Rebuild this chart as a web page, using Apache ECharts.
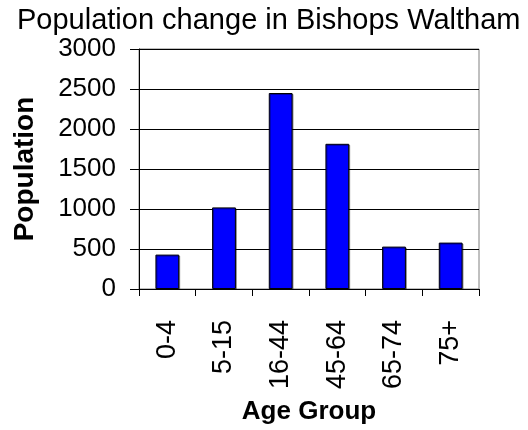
<!DOCTYPE html>
<html>
<head>
<meta charset="utf-8">
<script src="https://cdn.jsdelivr.net/npm/echarts@6/dist/echarts.min.js"></script>
<style>
  html, body { margin: 0; padding: 0; background: #fff; }
  #chart { width: 528px; height: 430px; }
</style>
</head>
<body>
<div id="chart"></div>
<script>
const ageGroups = ["0-4", "5-15", "16-44", "45-64", "65-74", "75+"];
const population = [430, 1020, 2450, 1815, 530, 580];

const chart = echarts.init(document.getElementById("chart"));
const font = "Liberation Sans, Arial, sans-serif";

const option = {
  animation: false,
  backgroundColor: "#fff",
  title: {
    text: "Population change in Bishops Waltham",
    left: 12,
    top: 1,
    textStyle: { fontFamily: font, fontSize: 29, fontWeight: "normal", color: "#000" }
  },
  grid: {
    left: 139,
    right: 49,
    top: 49,
    bottom: 140,
    show: true,
    borderColor: "#808080",
    borderWidth: 1
  },
  xAxis: {
    type: "category",
    data: ageGroups,
    name: "Age Group",
    nameLocation: "middle",
    nameGap: 110,
    nameTextStyle: { fontFamily: font, fontSize: 26, fontWeight: "bold", color: "#000" },
    axisLine: { lineStyle: { color: "#000", width: 1 } },
    axisTick: { show: true, length: 7, lineStyle: { color: "#000" } },
    axisLabel: { rotate: 90, margin: 31, fontFamily: font, fontSize: 27, color: "#000" }
  },
  yAxis: {
    type: "value",
    min: 0,
    max: 3000,
    interval: 500,
    name: "Population",
    nameLocation: "middle",
    nameGap: 100,
    nameTextStyle: { fontFamily: font, fontSize: 28, fontWeight: "bold", color: "#000" },
    axisLine: { show: true, lineStyle: { color: "#000", width: 1 } },
    axisTick: { show: true, length: 9, lineStyle: { color: "#000" } },
    axisLabel: {
      margin: 23,
      fontFamily: font,
      fontSize: 26,
      color: "#000",
      formatter: function(v) { return String(v); }
    },
    splitLine: { show: true, lineStyle: { color: "#000", width: 1 } }
  },
  series: [{
    type: "bar",
    data: population,
    barWidth: "42%",
    itemStyle: {
      color: "#0000ff",
      borderColor: "#000",
      borderWidth: 1,
      shadowColor: "rgba(0,0,0,0.35)",
      shadowOffsetX: 1,
      shadowOffsetY: 1
    }
  }]
};

chart.setOption(option);
</script>
</body>
</html>
